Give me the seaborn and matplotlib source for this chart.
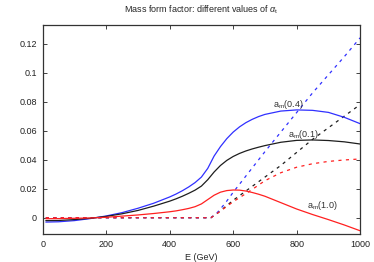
import numpy as np
import pandas as pd
import matplotlib
matplotlib.use('Agg')
import matplotlib.pyplot as plt
import seaborn as sns

sns.set_style('ticks')
plt.rcParams['font.family'] = ['Liberation Sans', 'DejaVu Sans']
plt.rcParams['mathtext.fontset'] = 'custom'
plt.rcParams['mathtext.rm'] = 'Liberation Sans'
plt.rcParams['mathtext.it'] = 'Liberation Sans:italic'

# solid curves a_m(alpha_t)
e_solid = [10, 50, 100, 150, 200, 250, 300, 350, 400, 420, 440, 460, 480, 500, 520,
           540, 560, 580, 600, 620, 640, 660, 680, 700, 750, 800, 850, 900, 950, 1000]
am_04 = [-0.0030, -0.0028, -0.0020, -0.0006, 0.0012, 0.0035, 0.0065, 0.0100, 0.0143,
         0.0163, 0.0186, 0.0212, 0.0242, 0.0280, 0.0340, 0.0425, 0.0490, 0.0545, 0.0590,
         0.0626, 0.0655, 0.0678, 0.0697, 0.0712, 0.0735, 0.0743, 0.0740, 0.0726, 0.0692,
         0.0648]
am_01 = [-0.0020, -0.0019, -0.0013, -0.0004, 0.0009, 0.0027, 0.0050, 0.0080, 0.0114,
         0.0130, 0.0148, 0.0168, 0.0190, 0.0218, 0.0262, 0.0315, 0.0360, 0.0395, 0.0422,
         0.0443, 0.0460, 0.0474, 0.0486, 0.0497, 0.0520, 0.0533, 0.0536, 0.0532, 0.0523,
         0.0508]
am_10 = [-0.0007, -0.0006, -0.0004, -0.0002, 0.0003, 0.0011, 0.0019, 0.0029, 0.0041,
         0.0047, 0.0055, 0.0064, 0.0076, 0.0095, 0.0125, 0.0155, 0.0176, 0.0187, 0.0191,
         0.0190, 0.0184, 0.0174, 0.0162, 0.0148, 0.0104, 0.0060, 0.0022, -0.0013, -0.0050,
         -0.0090]

# dashed curves
e_dash = [10, 100, 200, 300, 400, 500, 530, 550, 575, 600, 650, 700, 750, 800, 850,
          900, 950, 1000]
d_04 = [0, 0, 0, 0, 0, 0, 0, 0.0035, 0.0100, 0.0175, 0.0315, 0.0455, 0.0590, 0.0725,
        0.0860, 0.0985, 0.1110, 0.1240]
d_01 = [0, 0, 0, 0, 0, 0, 0, 0.0030, 0.0075, 0.0120, 0.0200, 0.0280, 0.0360, 0.0450,
        0.0540, 0.0620, 0.0700, 0.0780]
d_10 = [0, 0, 0, 0, 0, 0, 0, 0.0030, 0.0070, 0.0110, 0.0180, 0.0255, 0.0310, 0.0348,
        0.0372, 0.0388, 0.0398, 0.0405]

labels = [r'a$_\mathrm{m}$(0.4)', r'a$_\mathrm{m}$(0.1)', r'a$_\mathrm{m}$(1.0)']
label_pos = [(725, 0.0765), (773, 0.0557), (833, 0.0067)]

blue, black, red = '#3030ff', '#1e1e1e', '#ff2020'

solid = pd.DataFrame({'E': e_solid, '0.4': am_04, '0.1': am_01, '1.0': am_10})
dash = pd.DataFrame({'E': e_dash, '0.4': d_04, '0.1': d_01, '1.0': d_10})

fig = plt.figure(figsize=(3.74, 2.62), dpi=100)
ax = fig.add_axes([0.114, 0.107, 0.849, 0.798])

for col, c in [('0.1', black), ('0.4', blue), ('1.0', red)]:
    sns.lineplot(data=dash, x='E', y=col, color=c, lw=0.9, ax=ax,
                 dashes=False, linestyle=(0, (2.5, 3.5)))
for col, c in [('0.4', blue), ('0.1', black), ('1.0', red)]:
    sns.lineplot(data=solid, x='E', y=col, color=c, lw=0.9, ax=ax)

for lab, (x, y) in zip(labels, label_pos):
    ax.text(x, y, lab, fontsize=6.5, color='#333333', ha='left', va='baseline')

ax.set_xlim(0, 1000)
ax.set_ylim(-0.0112, 0.1329)
ax.set_xticks([0, 200, 400, 600, 800, 1000])
yt = [0, 0.02, 0.04, 0.06, 0.08, 0.1, 0.12]
ax.set_yticks(yt)
ax.set_yticklabels(['0', '0.02', '0.04', '0.06', '0.08', '0.1', '0.12'])
ax.tick_params(direction='in', length=3, width=0.6, labelsize=6.5, colors='#222222',
               top=True, right=True, pad=4)
for s in ax.spines.values():
    s.set_linewidth(0.9)
    s.set_color('#333333')
    s.set_visible(True)
ax.set_xlabel('E (GeV)', fontsize=6.5, labelpad=3)
ax.set_ylabel('')
ax.set_title(r'Mass form factor: different values of $\alpha_\mathrm{t}$', fontsize=6.5, pad=9)

fig.savefig('out.png', dpi=100)
